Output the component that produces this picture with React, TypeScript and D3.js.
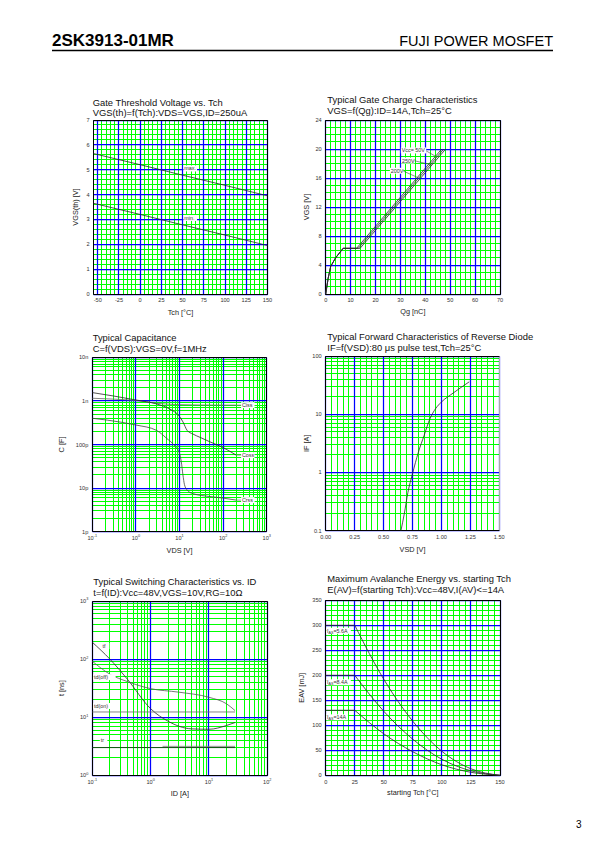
import React from 'react';
import * as d3 from 'd3';

const GREEN = '#00ff00';
const BLUE = '#0000ff';
const INK = '#2a2a2a';
const FONT = "'Liberation Sans', Arial, Helvetica, sans-serif";

// ===== Header
const partNo = '2SK3913-01MR';
const brand = 'FUJI POWER MOSFET';
const pageNo = '3';

// ===== Chart 1: Gate threshold voltage
const c1Title = ['Gate Threshold Voltage vs. Tch', 'VGS(th)=f(Tch):VDS=VGS,ID=250uA'];
const c1XTicks = [-50, -25, 0, 25, 50, 75, 100, 125, 150];
const c1YTicks = [0, 1, 2, 3, 4, 5, 6, 7];
const c1Tch = [-55, 0, 50, 100, 150];
const c1VthMax = [5.65, 5.2, 4.78, 4.37, 3.95];
const c1VthMin = [3.65, 3.2, 2.78, 2.37, 1.95];
const c1Labels = ['max.', 'min.'];

// ===== Chart 2: Gate charge
const c2Title = ['Typical Gate Charge Characteristics', 'VGS=f(Qg):ID=14A,Tch=25\u00b0C'];
const c2XTicks = [0, 10, 20, 30, 40, 50, 60, 70];
const c2YTicks = [0, 4, 8, 12, 16, 20, 24];
const c2Qg50 = [0, 1, 2, 4, 7, 12.4, 46.6];
const c2Qg200 = [0, 1, 2, 4, 7, 13.1, 47.4];
const c2Qg250 = [0, 1, 2, 4, 7, 13.8, 48.2];
const c2Vgs = [0, 2.2, 3.8, 5.0, 6.3, 6.3, 20];
const c2Labels = ['Vcc= 50V', '250V', '200V'];

// ===== Chart 3: Capacitance
const c3Title = ['Typical Capacitance', 'C=f(VDS):VGS=0V,f=1MHz'];
const c3XTicks = [0.1, 1, 10, 100, 1000];
const c3XExp = ['-1', '0', '1', '2', '3'];
const c3YTicks = [1, 10, 100, 1000, 10000];
const c3YText = ['1p', '10p', '100p', '1n', '10n'];
const c3CissV = [0.1, 0.3, 1, 3, 10, 30, 100, 200];
const c3CissC = [1150, 1100, 1020, 880, 820, 805, 800, 800];
const c3CossV = [0.1, 0.3, 1, 3, 6, 10, 12, 15, 20, 30, 50, 100, 200];
const c3CossC = [1550, 1300, 1050, 850, 650, 440, 330, 210, 175, 145, 115, 85, 57];
const c3CrssV = [0.1, 0.5, 1, 3, 5, 8, 10, 11, 12, 13, 15, 20, 50, 100, 200];
const c3CrssC = [400, 320, 280, 210, 140, 90, 63, 40, 20, 12, 9, 7.5, 6.4, 5.9, 5.3];
const c3Labels = ['Ciss', 'Coss', 'Crss'];

// ===== Chart 4: Reverse diode
const c4Title = ['Typical Forward Characteristics of Reverse Diode', 'IF=f(VSD):80 \u03bcs pulse test,Tch=25\u00b0C'];
const c4XTicks = [0, 0.25, 0.5, 0.75, 1.0, 1.25, 1.5];
const c4XText = ['0.00', '0.25', '0.50', '0.75', '1.00', '1.25', '1.50'];
const c4YTicks = [0.1, 1, 10, 100];
const c4YText = ['0.1', '1', '10', '100'];
const c4Vsd = [0.65, 0.68, 0.71, 0.75, 0.8, 0.85, 0.9, 0.95, 1.0, 1.1, 1.24];
const c4If = [0.1, 0.2, 0.45, 0.95, 2.2, 4.3, 8.3, 12.5, 16.2, 23, 36];

// ===== Chart 5: Switching
const c5Title = ['Typical Switching Characteristics vs. ID', 't=f(ID):Vcc=48V,VGS=10V,RG=10\u03a9'];
const c5XTicks = [0.1, 1, 10, 100];
const c5XExp = ['-1', '0', '1', '2'];
const c5YTicks = [1, 10, 100, 1000];
const c5YExp = ['0', '1', '2', '3'];
const c5TfId = [0.1, 0.2, 0.4, 1, 2, 5, 10, 20, 28];
const c5Tf = [195, 100, 45, 14, 8.5, 6.3, 6.2, 7.2, 8.1];
const c5TdoffId = [0.1, 0.2, 0.4, 1, 3, 10, 20, 28];
const c5Tdoff = [92, 55, 41, 31, 27, 22, 17, 13];
const c5TdonId = [0.1, 28];
const c5Tdon = [12.3, 12.3];
const c5TrId = [0.1, 28];
const c5Tr = [3.0, 3.0];
const c5Tr2Id = [1.6, 28];
const c5Tr2 = [3.15, 3.15];
const c5Labels = ['tf', 'td(off)', 'td(on)', 'tr'];

// ===== Chart 6: Avalanche energy
const c6Title = ['Maximum Avalanche Energy vs. starting Tch', 'E(AV)=f(starting Tch):Vcc=48V,I(AV)<=14A'];
const c6XTicks = [0, 25, 50, 75, 100, 125, 150];
const c6YTicks = [0, 50, 100, 150, 200, 250, 300, 350];
const c6Flat = [0, 25];
const c6Tch = [25, 50, 75, 100, 125, 150];
const c6E56 = [300, 192, 108, 48, 13, 0];
const c6E84 = [200, 128, 72, 32, 9, 0];
const c6E14 = [130, 83, 47, 21, 6, 0];
const c6Labels = ['=5.6A', '=8.4A', '=14A'];

// axis titles
const c1XTitle = 'Tch [\u00b0C]';
const c1YTitle = 'VGS(th) [V]';
const c2XTitle = 'Qg [nC]';
const c2YTitle = 'VGS [V]';
const c3XTitle = 'VDS [V]';
const c3YTitle = 'C [F]';
const c4XTitle = 'VSD [V]';
const c4YTitle = 'IF [A]';
const c5XTitle = 'ID [A]';
const c5YTitle = 't [ns]';
const c6XTitle = 'starting Tch [\u00b0C]';
const c6YTitle = 'EAV [mJ]';

type Box = { x0: number; x1: number; y0: number; y1: number };
type Tick = { v: number; t: string; e?: string };

const B1: Box = { x0: 93.5, x1: 267.5, y0: 120, y1: 294 };
const B2: Box = { x0: 325.7, x1: 500, y0: 120, y1: 294 };
const B3: Box = { x0: 92.3, x1: 266.7, y0: 357.3, y1: 531.7 };
const B4: Box = { x0: 325.7, x1: 499.3, y0: 356, y1: 530.7 };
const B5: Box = { x0: 92.3, x1: 267.3, y0: 601, y1: 775.3 };
const B6: Box = { x0: 325.7, x1: 500, y0: 600.3, y1: 775.3 };

const lin = (d: [number, number], r: [number, number]) => d3.scaleLinear().domain(d).range(r);
const lg = (d: [number, number], r: [number, number]) => d3.scaleLog().domain(d).range(r);
const steps = (a: number, b: number, s: number) =>
  d3.range(Math.round((b - a) / s) + 1).map((i) => +(a + i * s).toFixed(6));
const logMinors = (lo: number, hi: number) => {
  const out: number[] = [];
  for (let e = lo; e < hi; e++) for (let m = 2; m <= 9; m++) out.push(m * Math.pow(10, e));
  return out;
};
const pathOf = (sx: any, sy: any, xs: number[], ys: number[], curve: any = d3.curveMonotoneX) =>
  d3
    .line<number>()
    .x((_, i) => sx(xs[i]))
    .y((_, i) => sy(ys[i]))
    .curve(curve)(xs) || '';

const snap = (v: number) => Math.floor(v) + 0.5;
const TFS = 5.6;

function TickText({ x, y, anchor, tick }: { x: number; y: number; anchor: string; tick: Tick }) {
  if (tick.e !== undefined) {
    return (
      <text x={x} y={y} textAnchor={anchor as any} fontSize={TFS} fill="#333">
        {tick.t}
        <tspan fontSize={3.8} dy={-2.6}>
          {tick.e}
        </tspan>
      </text>
    );
  }
  return (
    <text x={x} y={y} textAnchor={anchor as any} fontSize={TFS} fill="#333">
      {tick.t}
    </text>
  );
}

function BoxLabel({ x, y, text, fs = 5.4, w }: { x: number; y: number; text: React.ReactNode; fs?: number; w: number }) {
  return (
    <g>
      <rect x={x - 0.8} y={y - fs * 0.55} width={w + 1.6} height={fs * 1.1} fill="#fff" />
      <text x={x} y={y + fs * 0.36} fontSize={fs} fill="#333">
        {text}
      </text>
    </g>
  );
}

interface ChartProps {
  box: Box;
  sx: any;
  sy: any;
  xMinor: number[];
  xMajor: number[];
  yMinor: number[];
  yMajor: number[];
  xTicks: Tick[];
  yTicks: Tick[];
  title: string[];
  tx: number;
  ty1: number;
  ty2: number;
  xTitle: string;
  xTitleY: number;
  yTitle: string;
  yTitleX: number;
  rightEdge?: string;
  children?: React.ReactNode;
}

function Chart(p: ChartProps) {
  const { box, sx, sy } = p;
  const w = box.x1 - box.x0;
  const h = box.y1 - box.y0;
  const cy = (box.y0 + box.y1) / 2;
  const X0 = snap(box.x0);
  const X1 = snap(box.x1);
  const Y0 = snap(box.y0);
  const Y1 = snap(box.y1);
  return (
    <g>
      <text x={p.tx} y={p.ty1} fontSize={9.4} fill="#111">
        {p.title[0]}
      </text>
      <text x={p.tx} y={p.ty2} fontSize={9.4} fill="#111">
        {p.title[1]}
      </text>
      <rect x={box.x0} y={box.y0} width={w} height={h} fill="#fff" />
      <g>
        {p.xMinor.map((v, i) => (
          <line key={'xm' + i} x1={snap(sx(v))} x2={snap(sx(v))} y1={Y0} y2={Y1} stroke={GREEN} strokeWidth={1} />
        ))}
        {p.yMinor.map((v, i) => (
          <line key={'ym' + i} x1={X0} x2={X1} y1={snap(sy(v))} y2={snap(sy(v))} stroke={GREEN} strokeWidth={1} />
        ))}
        {p.xMajor.map((v, i) => (
          <line key={'xM' + i} x1={snap(sx(v))} x2={snap(sx(v))} y1={Y0} y2={Y1} stroke={BLUE} strokeWidth={1.25} />
        ))}
        {p.yMajor.map((v, i) => (
          <line key={'yM' + i} x1={X0} x2={X1} y1={snap(sy(v))} y2={snap(sy(v))} stroke={BLUE} strokeWidth={1.25} />
        ))}
        <line x1={X0} x2={X0} y1={Y0} y2={Y1} stroke="#000" strokeWidth={1} />
        <line x1={X0} x2={X1} y1={Y1} y2={Y1} stroke="#000" strokeWidth={1} />
        <line x1={X0} x2={X1} y1={Y0} y2={Y0} stroke="#000" strokeWidth={1} />
        <line x1={X1} x2={X1} y1={Y0} y2={Y1} stroke={p.rightEdge || '#000'} strokeWidth={1} />
      </g>
      {p.xTicks.map((t, i) => (
        <TickText key={'xt' + i} x={sx(t.v)} y={box.y1 + 8.3} anchor="middle" tick={t} />
      ))}
      {p.yTicks.map((t, i) => (
        <TickText key={'yt' + i} x={box.x0 - 4} y={sy(t.v) + 2} anchor="end" tick={t} />
      ))}
      <text x={(box.x0 + box.x1) / 2} y={p.xTitleY} textAnchor="middle" fontSize={7.3} fill="#222">
        {p.xTitle}
      </text>
      <text
        transform={`translate(${p.yTitleX},${cy}) rotate(-90)`}
        textAnchor="middle"
        fontSize={7.3}
        fill="#222"
      >
        {p.yTitle}
      </text>
      <g fill="none">{p.children}</g>
    </g>
  );
}

const numTicks = (vals: number[]): Tick[] => vals.map((v) => ({ v, t: String(v) }));

export default function App() {
  const s1x = lin([-55, 150], [B1.x0, B1.x1]);
  const s1y = lin([0, 7], [B1.y1, B1.y0]);
  const s2x = lin([0, 70], [B2.x0, B2.x1]);
  const s2y = lin([0, 24], [B2.y1, B2.y0]);
  const s3x = lg([0.1, 1000], [B3.x0, B3.x1]);
  const s3y = lg([1, 10000], [B3.y1, B3.y0]);
  const s4x = lin([0, 1.5], [B4.x0, B4.x1]);
  const s4y = lg([0.1, 100], [B4.y1, B4.y0]);
  const s5x = lg([0.1, 100], [B5.x0, B5.x1]);
  const s5y = lg([1, 1000], [B5.y1, B5.y0]);
  const s6x = lin([0, 150], [B6.x0, B6.x1]);
  const s6y = lin([0, 350], [B6.y1, B6.y0]);

  const cw = (s: string, fs: number) => s.length * fs * 0.55;

  const c2Anchor = [
    { x: 30.5, y: 19.8, tx: 44.1, ty: 19.0 },
    { x: 30.6, y: 18.4, tx: 42.7, ty: 17.8 },
    { x: 26.1, y: 17.0, tx: 37.4, ty: 16.0 },
  ];

  const c3End = [
    { v: c3CissC[c3CissC.length - 1] },
    { v: c3CossC[c3CossC.length - 1] },
    { v: c3CrssC[c3CrssC.length - 1] },
  ];

  const c5Anchor = [
    { x: 0.15, y: 168 },
    { x: 0.107, y: 49 },
    { x: 0.107, y: 15.6 },
    { x: 0.139, y: 4.05 },
  ];

  const c6Anchor = [
    { x: 1.2, y: 289 },
    { x: 1.2, y: 186 },
    { x: 1.2, y: 116 },
  ];

  return (
    <svg
      width={595}
      height={842}
      viewBox="0 0 595 842"
      style={{ position: 'absolute', left: 0, top: 0, background: '#fff' }}
      fontFamily={FONT}
    >
      <rect x={0} y={0} width={595} height={842} fill="#fff" />
      <text x={52} y={46} fontSize={17} fontWeight="bold" fill="#000">
        {partNo}
      </text>
      <text x={553} y={46} fontSize={14.5} textAnchor="end" fill="#000">
        {brand}
      </text>
      <line x1={52} x2={553} y1={50.5} y2={50.5} stroke="#000" strokeWidth={1.6} />
      <text x={576} y={828} fontSize={10} fill="#000">
        {pageNo}
      </text>

      <Chart
        box={B1}
        sx={s1x}
        sy={s1y}
        xMinor={steps(-55, 150, 5)}
        xMajor={c1XTicks}
        yMinor={steps(0, 7, 0.2)}
        yMajor={c1YTicks}
        xTicks={numTicks(c1XTicks)}
        yTicks={numTicks(c1YTicks)}
        title={c1Title}
        tx={92.7}
        ty1={105.5}
        ty2={116.3}
        xTitle={c1XTitle}
        xTitleY={B1.y1 + 20.5}
        yTitle={c1YTitle}
        yTitleX={B1.x0 - 16}
      >
        <path d={pathOf(s1x, s1y, c1Tch, c1VthMax)} stroke={INK} strokeWidth={0.8} />
        <path d={pathOf(s1x, s1y, c1Tch, c1VthMin)} stroke={INK} strokeWidth={0.8} />
        <BoxLabel x={s1x(52)} y={s1y(5.05)} text={c1Labels[0]} w={cw(c1Labels[0], 5.4)} />
        <BoxLabel x={s1x(52)} y={s1y(3.06)} text={c1Labels[1]} w={cw(c1Labels[1], 5.4)} />
      </Chart>

      <Chart
        box={B2}
        sx={s2x}
        sy={s2y}
        xMinor={steps(0, 70, 2)}
        xMajor={c2XTicks}
        yMinor={steps(0, 24, 1)}
        yMajor={c2YTicks}
        xTicks={numTicks(c2XTicks)}
        yTicks={numTicks(c2YTicks)}
        title={c2Title}
        tx={327.3}
        ty1={102.7}
        ty2={113.6}
        xTitle={c2XTitle}
        xTitleY={B2.y1 + 20}
        yTitle={c2YTitle}
        yTitleX={B2.x0 - 17}
      >
        <path d={pathOf(s2x, s2y, c2Qg50, c2Vgs, d3.curveLinear)} stroke={INK} strokeWidth={0.8} />
        <path d={pathOf(s2x, s2y, c2Qg200, c2Vgs, d3.curveLinear)} stroke={INK} strokeWidth={0.8} />
        <path d={pathOf(s2x, s2y, c2Qg250, c2Vgs, d3.curveLinear)} stroke={INK} strokeWidth={0.8} />
        {c2Labels.map((s, i) => {
          const a = c2Anchor[i];
          const w = cw(s, 5.4);
          return (
            <g key={'l2' + i}>
              <line
                x1={s2x(a.x) + w}
                y1={s2y(a.y)}
                x2={s2x(a.tx)}
                y2={s2y(a.ty)}
                stroke="#444"
                strokeWidth={0.6}
              />
              <BoxLabel x={s2x(a.x)} y={s2y(a.y)} text={s} w={w} />
            </g>
          );
        })}
      </Chart>

      <Chart
        box={B3}
        sx={s3x}
        sy={s3y}
        xMinor={logMinors(-1, 3)}
        xMajor={c3XTicks}
        yMinor={logMinors(0, 4)}
        yMajor={c3YTicks}
        xTicks={c3XTicks.map((v, i) => ({ v, t: '10', e: c3XExp[i] }))}
        yTicks={c3YTicks.map((v, i) => ({ v, t: c3YText[i] }))}
        title={c3Title}
        tx={92.7}
        ty1={341}
        ty2={351.8}
        xTitle={c3XTitle}
        xTitleY={B3.y1 + 21}
        yTitle={c3YTitle}
        yTitleX={B3.x0 - 28}
      >
        <path d={pathOf(s3x, s3y, c3CissV, c3CissC)} stroke="#666" strokeWidth={0.8} />
        <path d={pathOf(s3x, s3y, c3CossV, c3CossC)} stroke={INK} strokeWidth={0.8} />
        <path d={pathOf(s3x, s3y, c3CrssV, c3CrssC)} stroke="#444" strokeWidth={0.8} />
        {c3Labels.map((s, i) => {
          const y = s3y(c3End[i].v);
          const lx = s3x(270);
          return (
            <g key={'l3' + i}>
              <line x1={s3x(200)} x2={lx} y1={y} y2={y} stroke="#777" strokeWidth={0.7} />
              <BoxLabel x={lx} y={y} text={s} w={cw(s, 5.4)} />
            </g>
          );
        })}
      </Chart>

      <Chart
        box={B4}
        sx={s4x}
        sy={s4y}
        xMinor={steps(0, 1.5, 0.05)}
        xMajor={c4XTicks}
        yMinor={logMinors(-1, 2)}
        yMajor={c4YTicks}
        xTicks={c4XTicks.map((v, i) => ({ v, t: c4XText[i] }))}
        yTicks={c4YTicks.map((v, i) => ({ v, t: c4YText[i] }))}
        title={c4Title}
        tx={327.3}
        ty1={340}
        ty2={350.8}
        xTitle={c4XTitle}
        xTitleY={B4.y1 + 21}
        yTitle={c4YTitle}
        yTitleX={B4.x0 - 17}
        rightEdge="#aaaaaa"
      >
        <path d={pathOf(s4x, s4y, c4Vsd, c4If)} stroke={INK} strokeWidth={0.8} />
      </Chart>

      <Chart
        box={B5}
        sx={s5x}
        sy={s5y}
        xMinor={logMinors(-1, 2)}
        xMajor={c5XTicks}
        yMinor={logMinors(0, 3)}
        yMajor={c5YTicks}
        xTicks={c5XTicks.map((v, i) => ({ v, t: '10', e: c5XExp[i] }))}
        yTicks={c5YTicks.map((v, i) => ({ v, t: '10', e: c5YExp[i] }))}
        title={c5Title}
        tx={93.3}
        ty1={585.3}
        ty2={596.2}
        xTitle={c5XTitle}
        xTitleY={B5.y1 + 20.5}
        yTitle={c5YTitle}
        yTitleX={B5.x0 - 28}
      >
        <path d={pathOf(s5x, s5y, c5TfId, c5Tf)} stroke={INK} strokeWidth={0.8} />
        <path d={pathOf(s5x, s5y, c5TdoffId, c5Tdoff)} stroke="#555" strokeWidth={0.8} />
        <path d={pathOf(s5x, s5y, c5TdonId, c5Tdon)} stroke="#666" strokeWidth={0.8} />
        <path d={pathOf(s5x, s5y, c5TrId, c5Tr)} stroke="#1c3a1c" strokeWidth={0.9} />
        <path d={pathOf(s5x, s5y, c5Tr2Id, c5Tr2)} stroke="#777" strokeWidth={0.8} />
        {c5Labels.map((s, i) => (
          <BoxLabel key={'l5' + i} x={s5x(c5Anchor[i].x)} y={s5y(c5Anchor[i].y)} text={s} w={cw(s, 5.4)} />
        ))}
      </Chart>

      <Chart
        box={B6}
        sx={s6x}
        sy={s6y}
        xMinor={steps(0, 150, 5)}
        xMajor={c6XTicks}
        yMinor={steps(0, 350, 10)}
        yMajor={c6YTicks}
        xTicks={numTicks(c6XTicks)}
        yTicks={numTicks(c6YTicks)}
        title={c6Title}
        tx={327.3}
        ty1={582}
        ty2={592.8}
        xTitle={c6XTitle}
        xTitleY={B6.y1 + 19.5}
        yTitle={c6YTitle}
        yTitleX={B6.x0 - 22}
      >
        {[c6E56, c6E84, c6E14].map((ys, i) => (
          <g key={'c6' + i}>
            <path d={pathOf(s6x, s6y, c6Flat, [ys[0], ys[0]], d3.curveLinear)} stroke={INK} strokeWidth={0.9} />
            <path d={pathOf(s6x, s6y, c6Tch, ys)} stroke={INK} strokeWidth={0.8} />
          </g>
        ))}
        {c6Labels.map((s, i) => (
          <BoxLabel
            key={'l6' + i}
            x={s6x(c6Anchor[i].x)}
            y={s6y(c6Anchor[i].y)}
            w={cw('IAS' + s, 5.2)}
            fs={5.4}
            text={
              <>
                I
                <tspan fontSize={3.6} dy={1.2}>
                  AS
                </tspan>
                <tspan dy={-1.2}>{s}</tspan>
              </>
            }
          />
        ))}
      </Chart>
    </svg>
  );
}
